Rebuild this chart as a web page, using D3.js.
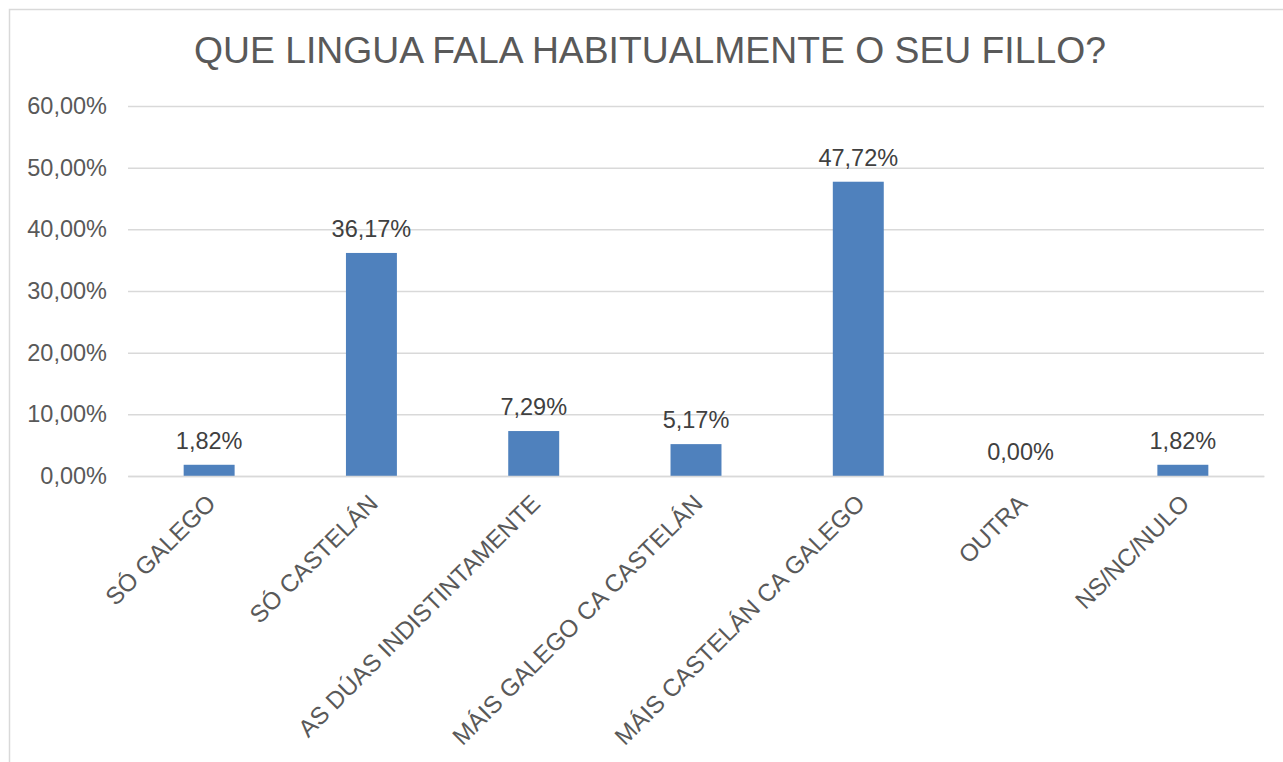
<!DOCTYPE html>
<html><head><meta charset="utf-8">
<script src="https://cdn.jsdelivr.net/npm/d3@7/dist/d3.min.js"></script>
<style>body{margin:0;background:#fff}svg{display:block}text{font-family:"Liberation Sans",Arial,sans-serif}</style>
</head><body><svg id="c" width="1283" height="762"></svg>
<script>
const categories = ["SÓ GALEGO","SÓ CASTELÁN","AS DÚAS INDISTINTAMENTE","MÁIS GALEGO CA CASTELÁN","MÁIS CASTELÁN CA GALEGO","OUTRA","NS/NC/NULO"];
const values = [1.82,36.17,7.29,5.17,47.72,0.00,1.82];
const yTicks = [0,10,20,30,40,50,60];
const title = "QUE LINGUA FALA HABITUALMENTE O SEU FILLO?";

const svg = d3.select("#c");
svg.append("rect").attr("x",9.5).attr("y",9.5).attr("width",1300).attr("height",800)
  .attr("fill","#fff").attr("stroke","#d9d9d9").attr("stroke-width",1.5);

const m = {l:128, r:1264, t:106, b:476};
const x = d3.scaleBand().domain(categories).range([m.l,m.r]).paddingInner(0.686).paddingOuter(0.343);
const y = d3.scaleLinear().domain([0,60]).range([m.b,m.t]);
const fmt = v => v.toFixed(2).replace(".",",") + "%";

svg.append("text").attr("x",650).attr("y",63).attr("text-anchor","middle")
  .attr("font-size",37.3).attr("fill","#595959").text(title);

const ya = svg.append("g").attr("transform",`translate(${m.l},0)`)
  .call(d3.axisLeft(y).tickValues(yTicks).tickSize(-(m.r-m.l)).tickPadding(21).tickFormat(fmt));
ya.select(".domain").remove();
ya.selectAll(".tick line").attr("stroke","#d9d9d9").attr("stroke-width",1.5);
ya.selectAll(".tick text").attr("font-size",23.5).attr("fill","#595959").attr("font-family","Liberation Sans, Arial, sans-serif");

svg.selectAll("rect.bar").data(values).join("rect").attr("class","bar")
  .attr("x",(d,i)=>x(categories[i])).attr("width",x.bandwidth())
  .attr("y",d=>y(d)).attr("height",d=>y(0)-y(d)).attr("fill","#4f81bd");

svg.selectAll("text.lbl").data(values).join("text").attr("class","lbl")
  .attr("x",(d,i)=>x(categories[i])+x.bandwidth()/2).attr("y",d=>y(d)-16)
  .attr("text-anchor","middle").attr("font-size",23.5).attr("fill","#404040").text(fmt);

const xa = svg.append("g").attr("transform",`translate(0,${m.b})`)
  .call(d3.axisBottom(x).tickSize(0).tickPadding(0));
xa.select(".domain").attr("stroke","#d9d9d9").attr("stroke-width",1.5);
xa.selectAll(".tick text").attr("font-size",24.2).attr("fill","#595959")
  .attr("font-family","Liberation Sans, Arial, sans-serif")
  .attr("text-anchor","end").attr("dy",null)
  .attr("transform","translate(8,29) rotate(-45)");
</script></body></html>
